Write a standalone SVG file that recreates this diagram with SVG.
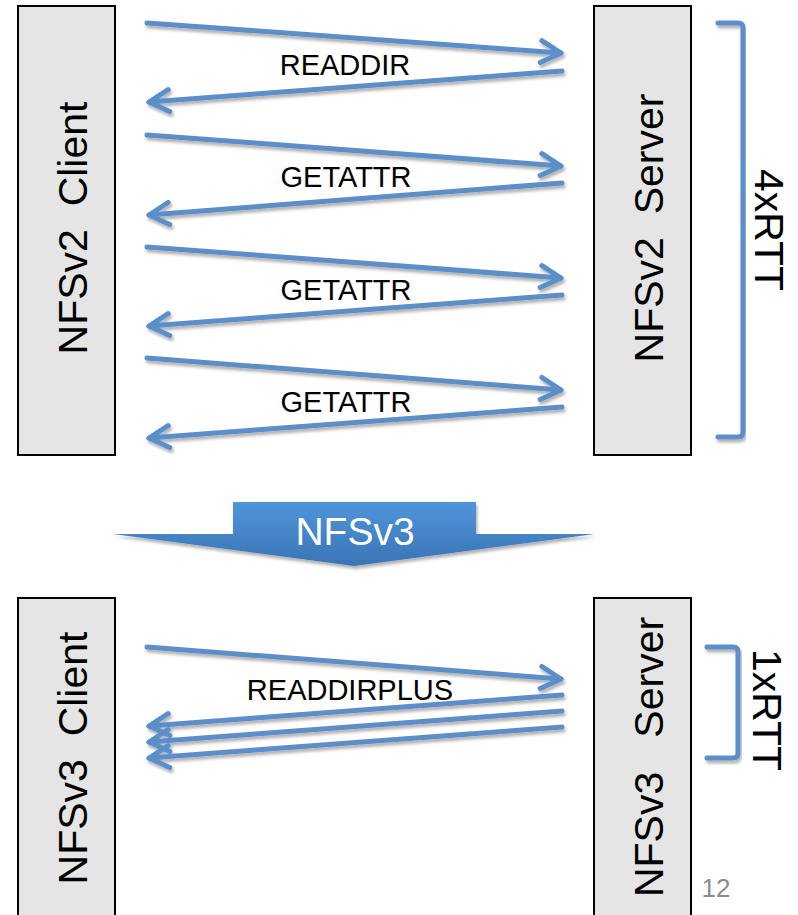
<svg xmlns="http://www.w3.org/2000/svg" width="798" height="915" viewBox="0 0 798 915">
<style>
.box{fill:#e5e5e5;stroke:#000;stroke-width:2}
.t{font-family:"Liberation Sans","Open Sans",Arial,sans-serif;fill:#000}
.big{font-size:41px;white-space:pre}
.lbl{font-size:29px;text-anchor:middle}
.con{fill:none;stroke:#5b8ec9;stroke-width:5;stroke-linecap:round;stroke-linejoin:round}
.arr{marker-end:url(#ah)}
</style>
<defs>
<marker id="ah" markerUnits="userSpaceOnUse" viewBox="-26 -16 30 32" refX="0" refY="0" markerWidth="30" markerHeight="32" orient="auto">
<path d="M-20,-11 L0,0 L-20,11" fill="none" stroke="#5b8ec9" stroke-width="5" stroke-linecap="round" stroke-linejoin="round"/>
</marker>
<filter id="sh" x="-10%" y="-30%" width="120%" height="160%">
<feDropShadow dx="1.5" dy="3" stdDeviation="1.8" flood-color="#000" flood-opacity="0.3"/>
</filter>
<linearGradient id="bg" x1="0" y1="0" x2="0" y2="1">
<stop offset="0" stop-color="#4f95dc"/>
<stop offset="1" stop-color="#3a74b4"/>
</linearGradient>
</defs>

<g id="nfsv2-client">
<rect class="box" x="18" y="6" width="97" height="449"/>
<text class="t big" text-anchor="middle" transform="translate(87,228) rotate(-90)">NFSv2  Client</text>
</g>
<g id="nfsv2-server">
<rect class="box" x="594" y="6" width="97" height="449"/>
<text class="t big" text-anchor="middle" transform="translate(663,228) rotate(-90)">NFSv2  Server</text>
</g>
<g id="rtt4">
<path class="con" d="M718,23 L738,23 Q743,23 743,28 L743,432 Q743,437 738,437 L718,437" filter="url(#sh)"/>
<text class="t big" text-anchor="middle" transform="translate(755,230) rotate(90)">4xRTT</text>
</g>

<g id="transition">
<path d="M233,502 L476,502 L476,534 L595,534 L354,566 L113,534 L233,534 Z" fill="url(#bg)" filter="url(#sh)"/>
<text x="355" y="545" font-family="'Liberation Sans','Open Sans',Arial,sans-serif" font-size="39" fill="#fff" text-anchor="middle">NFSv3</text>
</g>

<g id="nfsv3-client">
<rect class="box" x="18" y="598" width="97" height="330"/>
<text class="t big" text-anchor="middle" transform="translate(87,758) rotate(-90)">NFSv3  Client</text>
</g>
<g id="nfsv3-server">
<rect class="box" x="594" y="598" width="97" height="330"/>
<text class="t big" text-anchor="middle" transform="translate(663,757) rotate(-90)">NFSv3   Server</text>
</g>
<g id="rtt1">
<path class="con" d="M707,647 L733,647 Q738,647 738,652 L738,753 Q738,758 733,758 L707,758" filter="url(#sh)"/>
<text class="t big" text-anchor="middle" transform="translate(753,710) rotate(90)">1xRTT</text>
</g>

<g id="connectors" filter="url(#sh)">
<line class="con arr" x1="147" y1="23" x2="561" y2="53"/>
<line class="con arr" x1="562" y1="71" x2="149" y2="102"/>
<line class="con arr" x1="147" y1="135" x2="561" y2="166"/>
<line class="con arr" x1="562" y1="183" x2="149" y2="215"/>
<line class="con arr" x1="147" y1="247" x2="561" y2="278"/>
<line class="con arr" x1="562" y1="295" x2="149" y2="326"/>
<line class="con arr" x1="147" y1="358" x2="561" y2="390"/>
<line class="con arr" x1="562" y1="407" x2="149" y2="438"/>
<line class="con arr" x1="147" y1="647" x2="561" y2="679"/>
<line class="con arr" x1="562" y1="695" x2="149" y2="726"/>
<line class="con arr" x1="562" y1="711" x2="149" y2="742"/>
<line class="con arr" x1="562" y1="727" x2="149" y2="758"/>
</g>
<g id="labels">
<text class="t lbl" x="345" y="75">READDIR</text>
<text class="t lbl" x="346" y="187">GETATTR</text>
<text class="t lbl" x="346" y="300">GETATTR</text>
<text class="t lbl" x="346" y="412">GETATTR</text>
<text class="t lbl" x="350" y="700">READDIRPLUS</text>
</g>
<text x="716" y="897" font-family="'Liberation Sans','Open Sans',Arial,sans-serif" font-size="26" fill="#8c8c8c" text-anchor="middle">12</text>
</svg>
